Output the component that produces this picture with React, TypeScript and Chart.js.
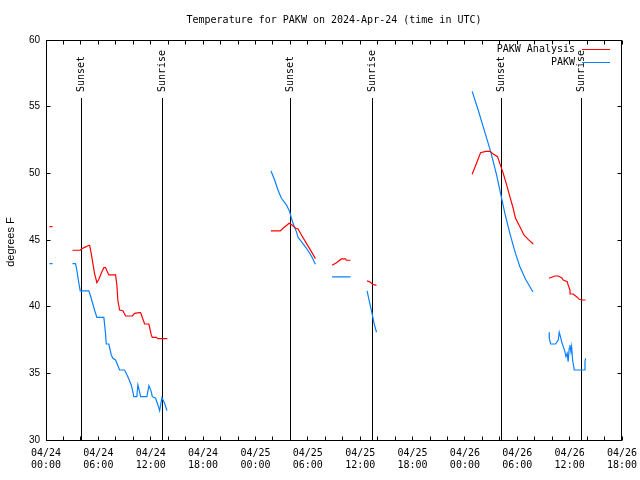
import React, { useEffect, useRef } from "react";
import { Chart, registerables } from "chart.js";

Chart.register(...registerables);

const titleText = "Temperature for PAKW on 2024-Apr-24 (time in UTC)";
const yAxisTitle = "degrees F";

// x = hours since 04/24 00:00 UTC
const xTickLabels: string[][] = [
  ["04/24", "00:00"], ["04/24", "06:00"], ["04/24", "12:00"], ["04/24", "18:00"],
  ["04/25", "00:00"], ["04/25", "06:00"], ["04/25", "12:00"], ["04/25", "18:00"],
  ["04/26", "00:00"], ["04/26", "06:00"], ["04/26", "12:00"], ["04/26", "18:00"],
];

const sunHours = [4.1, 13.39, 28.07, 37.36, 52.14, 61.33];
const sunLabels = ["Sunset", "Sunrise", "Sunset", "Sunrise", "Sunset", "Sunrise"];

const analysisLabel = "PAKW Analysis";
const analysisHours = [
  0.4, 0.75, 1.5,
  3.04, 3.92, 4.1, 4.61, 4.91, 5.0, 5.18, 5.37, 5.56, 5.83, 6.06, 6.33, 6.63, 6.82, 7.02, 7.2, 7.97, 8.12, 8.23, 8.43, 8.81, 9.12, 9.89, 10.15, 10.72, 10.84, 11.07, 11.3, 11.79, 12.06, 12.18, 12.64, 12.82, 13.9,
  20,
  25.77, 26.86, 27.16, 27.62, 27.85, 28.24, 28.61, 28.88, 29.27, 29.84, 30.41, 30.87,
  31.8,
  32.78, 33.28, 33.85, 34.31, 34.43, 34.89,
  36,
  36.79, 37.18, 37.41, 37.87,
  45,
  48.83, 49.33, 49.79, 50.4, 50.86, 51.24, 51.74, 52.0, 52.39, 52.84, 53.15, 53.53, 53.8, 54.3, 54.76, 55.25, 55.83,
  56.5,
  57.63, 58.31, 58.69, 59.08, 59.27, 59.72, 59.83, 60.04, 60.05, 60.41, 60.8, 61.1, 61.38, 61.83,
];
const analysisTemps: (number | null)[] = [
  46.0, 46.0, null,
  44.23, 44.23, 44.35, 44.5, 44.6, 44.6, 44.0, 43.25, 42.5, 41.8, 42.05, 42.5, 42.93, 42.93, 42.63, 42.38, 42.38, 41.63, 40.5, 39.75, 39.7, 39.3, 39.3, 39.5, 39.55, 39.55, 39.13, 38.7, 38.7, 37.88, 37.7, 37.7, 37.6, 37.6,
  null,
  45.68, 45.68, 45.88, 46.13, 46.25, 46.1, 45.88, 45.83, 45.38, 44.75, 44.13, 43.6,
  null,
  43.1, 43.3, 43.58, 43.58, 43.48, 43.48,
  null,
  41.93, 41.83, 41.68, 41.6,
  null,
  49.93, 50.75, 51.55, 51.65, 51.65, 51.45, 51.25, 50.75, 50.0, 49.0, 48.25, 47.38, 46.63, 46.0, 45.38, 45.05, 44.7,
  null,
  42.13, 42.3, 42.3, 42.18, 42.0, 41.88, 41.63, 41.25, 40.95, 40.95, 40.75, 40.55, 40.5, 40.5,
];

const obsLabel = "PAKW";
const obsHours = [
  0.4, 0.75, 1.5,
  3.04, 3.38, 3.53, 3.72, 3.92, 4.91, 5.18, 5.56, 5.83, 6.63, 6.82, 6.9, 7.2, 7.48, 7.66, 7.97, 8.43, 9.0, 9.38, 9.77, 10.07, 10.41, 10.53, 10.72, 10.84, 11.56, 11.79, 12.06, 12.18, 12.56, 12.82, 13.02, 13.28, 13.59, 13.86,
  20,
  25.78, 26.2, 26.58, 26.97, 27.55, 27.92, 28.12, 28.38, 28.69, 28.88, 29.27, 29.84, 30.41, 30.87,
  31.8,
  32.78, 34.89,
  36,
  36.79, 37.1, 37.36, 37.59, 37.87,
  45,
  48.83, 49.52, 50.09, 50.67, 51.05, 51.63, 52.12, 52.58, 53.15, 53.73, 54.3, 54.95, 55.8,
  56.5,
  57.66, 57.67, 57.82, 58.39, 58.69, 58.81, 58.97, 59.08, 59.27, 59.46, 59.58, 59.72, 59.83, 59.95, 60.03, 60.15, 60.23, 60.34, 60.53, 61.68, 61.76, 61.83,
];
const obsTemps: (number | null)[] = [
  43.23, 43.23, null,
  43.23, 43.23, 42.75, 41.93, 41.18, 41.18, 40.63, 39.75, 39.2, 39.2, 38.0, 37.2, 37.2, 36.38, 36.13, 36.0, 35.25, 35.25, 34.75, 34.13, 33.25, 33.25, 34.13, 33.63, 33.25, 33.25, 34.08, 33.63, 33.25, 33.13, 32.63, 32.2, 33.18, 32.75, 32.2,
  null,
  50.18, 49.5, 48.75, 48.13, 47.63, 47.13, 46.63, 46.13, 45.63, 45.2, 44.88, 44.38, 43.8, 43.18,
  null,
  42.23, 42.23,
  null,
  41.18, 40.25, 39.5, 38.75, 38.08,
  null,
  56.15, 54.75, 53.5, 52.25, 51.38, 49.88, 48.38, 47.0, 45.5, 44.13, 43.0, 42.05, 41.1,
  null,
  38.08, 37.63, 37.2, 37.2, 37.5, 38.08, 37.7, 37.38, 37.0, 36.63, 36.25, 36.5, 35.88, 36.88, 37.13, 36.63, 37.0, 36.0, 35.25, 35.25, 35.88, 36.13,
];

const RED = "#ff0000";
const BLUE = "#0a80ff";
const MONO = "'DejaVu Sans Mono', monospace";
const SANS = "'Liberation Sans', Arial, sans-serif";

const toPoints = (xs: number[], ys: (number | null)[]) =>
  xs.map((x, i) => ({ x, y: ys[i] }));

const crisp = (v: number) => Math.floor(v) + 0.5;

const decorPlugin = {
  id: "decor",
  beforeDatasetsDraw(chart: any) {
    const { ctx, chartArea, scales } = chart;
    const xs = scales.x;
    ctx.save();
    ctx.strokeStyle = "#000";
    ctx.lineWidth = 1;
    ctx.fillStyle = "#000";
    ctx.font = `10px ${MONO}`;
    sunHours.forEach((h, i) => {
      const px = crisp(xs.getPixelForValue(h));
      ctx.beginPath();
      ctx.moveTo(px, 98);
      ctx.lineTo(px, chartArea.bottom);
      ctx.stroke();
      ctx.save();
      ctx.translate(px, 92);
      ctx.rotate(-Math.PI / 2);
      ctx.textAlign = "left";
      ctx.textBaseline = "middle";
      ctx.fillText(sunLabels[i], 0, 0);
      ctx.restore();
    });
    ctx.restore();
  },
  afterDraw(chart: any) {
    const { ctx, chartArea, scales } = chart;
    const xs = scales.x;
    const ys = scales.y;
    const l = crisp(chartArea.left);
    const r = crisp(chartArea.right - 0.5);
    const t = crisp(chartArea.top);
    const b = crisp(chartArea.bottom);
    ctx.save();
    ctx.strokeStyle = "#000";
    ctx.lineWidth = 1;
    ctx.strokeRect(l, t, r - l, b - t);
    ctx.beginPath();
    for (let h = 0; h <= 66; h += 2) {
      const px = crisp(xs.getPixelForValue(h));
      ctx.moveTo(px, b);
      ctx.lineTo(px, b - 4);
      ctx.moveTo(px, t);
      ctx.lineTo(px, t + 4);
    }
    for (let v = 30; v <= 60; v += 5) {
      const py = crisp(ys.getPixelForValue(v));
      ctx.moveTo(l, py);
      ctx.lineTo(l + 4, py);
      ctx.moveTo(r, py);
      ctx.lineTo(r - 4, py);
    }
    ctx.stroke();

    // title
    ctx.fillStyle = "#000";
    ctx.font = `10px ${MONO}`;
    ctx.textAlign = "center";
    ctx.textBaseline = "middle";
    ctx.fillText(titleText, (chartArea.left + chartArea.right) / 2, 20);

    // y axis title
    ctx.save();
    ctx.font = `11px ${SANS}`;
    ctx.translate(11, 242);
    ctx.rotate(-Math.PI / 2);
    ctx.textAlign = "center";
    ctx.textBaseline = "middle";
    ctx.fillText(yAxisTitle, 0, 0);
    ctx.restore();

    // legend
    const items = chart.data.datasets;
    ctx.font = `10px ${MONO}`;
    ctx.textAlign = "right";
    ctx.textBaseline = "middle";
    items.forEach((ds: any, i: number) => {
      const y = 49.5 + i * 12.5;
      ctx.fillStyle = "#000";
      ctx.fillText(ds.label, 575, y);
      ctx.strokeStyle = ds.borderColor;
      ctx.beginPath();
      ctx.moveTo(582, Math.floor(y) + 0.5);
      ctx.lineTo(610, Math.floor(y) + 0.5);
      ctx.stroke();
    });
    ctx.restore();
  },
};

export default function App() {
  const ref = useRef<HTMLCanvasElement | null>(null);
  useEffect(() => {
    if (!ref.current) return;
    const chart = new Chart(ref.current, {
      type: "line",
      data: {
        datasets: [
          {
            label: analysisLabel,
            data: toPoints(analysisHours, analysisTemps),
            borderColor: RED,
            backgroundColor: RED,
            borderWidth: 1.2,
            pointRadius: 0,
            tension: 0,
            spanGaps: false,
          },
          {
            label: obsLabel,
            data: toPoints(obsHours, obsTemps),
            borderColor: BLUE,
            backgroundColor: BLUE,
            borderWidth: 1.2,
            pointRadius: 0,
            tension: 0,
            spanGaps: false,
          },
        ],
      },
      options: {
        animation: false,
        responsive: false,
        events: [],
        layout: { padding: { top: 40, right: 18, left: 0, bottom: 0 } },
        plugins: {
          legend: { display: false },
          title: { display: false },
          tooltip: { enabled: false },
        },
        scales: {
          x: {
            type: "linear",
            min: 0,
            max: 66,
            grid: { display: false, drawTicks: false },
            border: { display: false },
            ticks: {
              stepSize: 6,
              autoSkip: false,
              maxRotation: 0,
              minRotation: 0,
              padding: 8,
              color: "#000",
              font: { family: MONO, size: 10, lineHeight: 1.17 },
              callback: (v: any) => {
                const n = Number(v);
                return n % 6 === 0 ? xTickLabels[n / 6] : "";
              },
            },
            afterFit: (s: any) => {
              s.height = 40;
              s.paddingLeft = 0;
              s.paddingRight = 0;
            },
          },
          y: {
            min: 30,
            max: 60,
            grid: { display: false, drawTicks: false },
            border: { display: false },
            ticks: {
              stepSize: 5,
              padding: 6,
              color: "#000",
              font: { family: SANS, size: 10 },
            },
            afterFit: (s: any) => {
              s.width = 46;
              s.paddingTop = 0;
              s.paddingBottom = 0;
            },
          },
        },
      },
      plugins: [decorPlugin],
    });
    return () => chart.destroy();
  }, []);
  return (
    <div style={{ position: "absolute", left: 0, top: 0, width: 640, height: 480, background: "#fff" }}>
      <canvas ref={ref} width={640} height={480} />
    </div>
  );
}
